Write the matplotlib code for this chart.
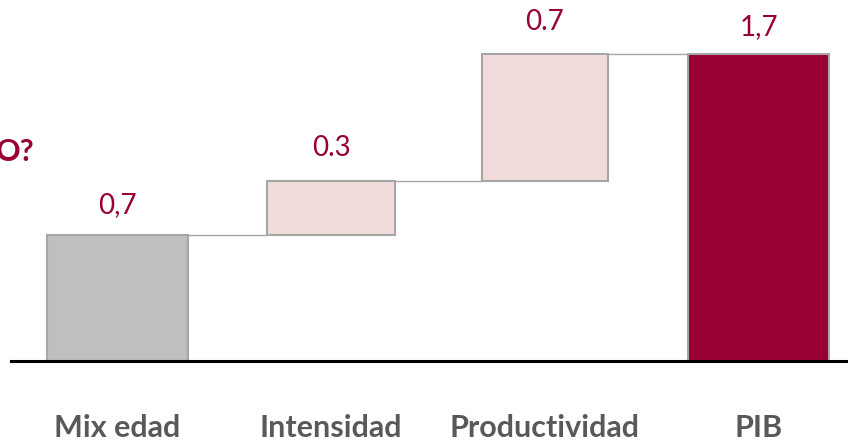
import matplotlib
matplotlib.use("Agg")
import matplotlib.pyplot as plt
import numpy as np

plt.rcParams['font.family'] = ['Lato', 'DejaVu Sans']

# Data
categories = ["Mix edad", "Intensidad", "Productividad", "PIB"]
increments = [0.7, 0.3, 0.7]          # contributions
total_value = 1.7                     # PIB
value_labels = ["0,7", "0.3", "0.7", "1,7"]

# Styles
bar_widths = [0.66, 0.60, 0.59, 0.66]
face_colors = ["#BFBFBF", "#F2DCDB", "#F2DCDB", "#990033"]
edge_color = "#A6A6A6"
label_red = "#990033"
cat_gray = "#595959"

W, H = 848, 443
fig = plt.figure(figsize=(W / 100, H / 100), dpi=100)
base_px = 361
ax = fig.add_axes([11 / W, (H - base_px) / H, (W - 11) / W, base_px / H])
ax.set_xlim(-0.498, 3.418)
ax.set_ylim(0, 2.0)

bottoms = list(np.concatenate([[0], np.cumsum(increments)[:-1]])) + [0]
heights = list(increments) + [total_value]
tops = [b + h for b, h in zip(bottoms, heights)]
x = np.arange(len(categories))

# connectors
for i in range(len(categories) - 1):
    x0 = x[i] + bar_widths[i] / 2
    x1 = x[i + 1] - bar_widths[i + 1] / 2
    ax.plot([x0, x1], [tops[i], tops[i]], color=edge_color, lw=1.0, zorder=1,
            solid_capstyle='butt')

for i in range(len(categories)):
    ax.bar(x[i], heights[i], bottom=bottoms[i], width=bar_widths[i],
           color=face_colors[i], edgecolor=edge_color, linewidth=1.5, zorder=2)

offsets = [22, 24, 24, 19]
for i in range(len(categories)):
    ax.annotate(value_labels[i], xy=(x[i], tops[i]), xytext=(0, offsets[i]),
                textcoords='offset pixels', ha='center', va='baseline',
                fontsize=20, color=label_red)
    ax.annotate(categories[i], xy=(x[i], 0), xycoords=('data', 'axes fraction'),
                xytext=(0, -76), textcoords='offset pixels', ha='center',
                va='baseline', fontsize=22, fontweight='bold', color=cat_gray,
                annotation_clip=False)

for s in ['top', 'right', 'left']:
    ax.spines[s].set_visible(False)
ax.spines['bottom'].set_color('black')
ax.spines['bottom'].set_linewidth(2.2)
ax.spines['bottom'].set_zorder(5)
ax.set_xticks([])
ax.set_yticks([])
ax.patch.set_alpha(0)

fig.text(-4 / W, (H - 161) / H, "O?", ha='left', va='baseline',
         fontsize=22, fontweight='bold', color=label_red)

fig.savefig("out.png", dpi=100)
